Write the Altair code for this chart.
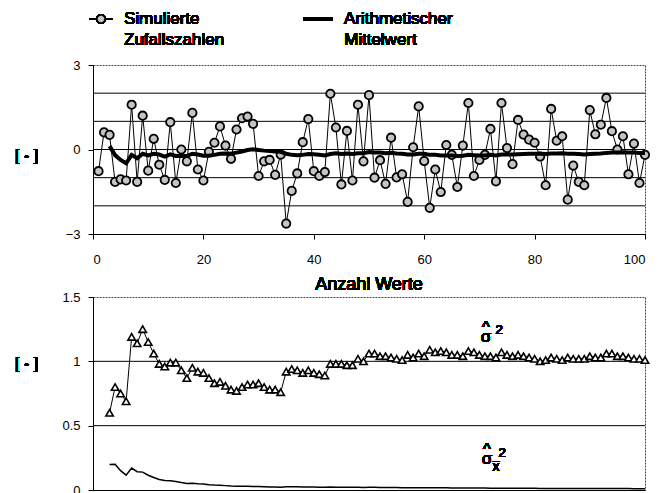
import pandas as pd
import altair as alt

# Simulierte Zufallszahlen, Werte 1..100
anzahl = list(range(1, 101))
zufallszahlen = [-0.77, 0.61, 0.52, -1.15, -1.06, -1.10, 1.59, -1.15, 1.20, -0.75,
                 0.38, -0.54, -1.08, 0.97, -1.19, 0.00, -0.42, 1.30, -0.71, -1.10,
                 -0.08, 0.24, 0.82, 0.14, -0.33, 0.71, 1.11, 1.17, 0.91, -0.94,
                 -0.42, -0.37, -0.90, -0.18, -2.63, -1.47, -0.85, 0.26, 1.08, -0.77,
                 -0.94, -0.80, 1.98, 0.78, -1.24, 0.66, -1.10, 1.59, -0.42, 1.93,
                 -1.00, -0.38, -1.22, 0.42, -0.99, -0.88, -1.86, 0.08, 1.53, -0.41,
                 -2.07, -0.71, -1.51, 0.16, -0.19, -1.33, 0.14, 1.65, -0.94, -0.37,
                 -0.19, 0.73, -1.13, 1.65, 0.05, -0.52, 1.05, 0.53, 0.35, 0.24,
                 -0.25, -1.27, 1.44, 0.31, 0.47, -1.78, -0.57, -1.15, -1.27, 1.40,
                 0.54, 0.88, 1.83, 0.65, 0.00, 0.47, -0.88, 0.21, -1.19, -0.19]

# Kennwerte ab dem 3. Wert
anzahl_ab3 = list(range(3, 101))
mittelwert = [0.12, -0.20, -0.37, -0.49, -0.19, -0.31, -0.15, -0.21, -0.15, -0.18,
              -0.25, -0.17, -0.23, -0.22, -0.23, -0.15, -0.18, -0.22, -0.22, -0.19,
              -0.15, -0.14, -0.15, -0.11, -0.07, -0.02, 0.01, -0.02, -0.04, -0.05,
              -0.07, -0.08, -0.15, -0.19, -0.20, -0.19, -0.16, -0.17, -0.19, -0.21,
              -0.16, -0.13, -0.16, -0.14, -0.16, -0.13, -0.13, -0.09, -0.11, -0.11,
              -0.13, -0.12, -0.14, -0.15, -0.18, -0.18, -0.15, -0.15, -0.19, -0.19,
              -0.21, -0.21, -0.21, -0.23, -0.22, -0.19, -0.20, -0.21, -0.21, -0.19,
              -0.21, -0.18, -0.18, -0.18, -0.17, -0.16, -0.15, -0.15, -0.15, -0.16,
              -0.14, -0.14, -0.13, -0.15, -0.15, -0.16, -0.18, -0.16, -0.15, -0.14,
              -0.12, -0.11, -0.11, -0.10, -0.11, -0.11, -0.12, -0.12]
varianz = [0.60, 0.80, 0.75, 0.69, 1.19, 1.14, 1.25, 1.15, 1.06, 0.98,
           0.96, 0.99, 0.99, 0.93, 0.87, 0.95, 0.92, 0.91, 0.87, 0.83,
           0.84, 0.81, 0.78, 0.77, 0.80, 0.82, 0.82, 0.83, 0.80, 0.78,
           0.78, 0.76, 0.92, 0.94, 0.93, 0.91, 0.93, 0.91, 0.90, 0.89,
           0.98, 0.98, 0.98, 0.97, 0.97, 1.02, 1.00, 1.06, 1.06, 1.04,
           1.04, 1.03, 1.02, 1.01, 1.05, 1.03, 1.06, 1.04, 1.09, 1.07,
           1.08, 1.07, 1.05, 1.05, 1.04, 1.08, 1.07, 1.05, 1.04, 1.04,
           1.03, 1.07, 1.05, 1.04, 1.05, 1.04, 1.03, 1.02, 1.00, 1.01,
           1.03, 1.02, 1.01, 1.03, 1.02, 1.02, 1.02, 1.04, 1.03, 1.03,
           1.06, 1.06, 1.04, 1.04, 1.03, 1.02, 1.02, 1.01]
varianz_mittel = [0.199, 0.200, 0.150, 0.115, 0.170, 0.142, 0.139, 0.115, 0.097, 0.082,
                  0.074, 0.071, 0.066, 0.058, 0.051, 0.053, 0.048, 0.046, 0.041, 0.038,
                  0.037, 0.034, 0.031, 0.030, 0.030, 0.029, 0.028, 0.028, 0.026, 0.024,
                  0.024, 0.022, 0.026, 0.026, 0.025, 0.024, 0.024, 0.023, 0.022, 0.021,
                  0.023, 0.022, 0.022, 0.021, 0.021, 0.021, 0.020, 0.021, 0.021, 0.020,
                  0.020, 0.019, 0.019, 0.018, 0.018, 0.018, 0.018, 0.017, 0.018, 0.017,
                  0.017, 0.017, 0.016, 0.016, 0.016, 0.016, 0.015, 0.015, 0.015, 0.014,
                  0.014, 0.014, 0.014, 0.014, 0.014, 0.013, 0.013, 0.013, 0.012, 0.012,
                  0.012, 0.012, 0.012, 0.012, 0.012, 0.012, 0.011, 0.012, 0.011, 0.011,
                  0.011, 0.011, 0.011, 0.011, 0.011, 0.010, 0.010, 0.010]

x_ticks = [0, 20, 40, 60, 80, 100]
y_ticks_top = [-3, 0, 3]
grid_top_vals = [-2, -1, 0, 1, 2]
y_ticks_bot = [0, 0.5, 1, 1.5]
grid_bot_vals = [0.5, 1.0]

df = pd.DataFrame({"n": anzahl, "wert": zufallszahlen})
dfm = pd.DataFrame({"n": anzahl_ab3, "mittel": mittelwert, "var": varianz, "varm": varianz_mittel})

F = "Liberation Sans"
xs = alt.Scale(domain=[0, 100], nice=False, zero=False)
ys_top = alt.Scale(domain=[-3, 3], nice=False)
ys_bot = alt.Scale(domain=[0, 1.5], nice=False)


def txt(s, xv, yv, size=16, align="left"):
    return alt.Chart(df).mark_text(text=s, font=F, fontSize=size, align=align, baseline="middle",
                                   color="black").encode(x=alt.value(xv), y=alt.value(yv))


top_axis_x = alt.Axis(values=x_ticks, grid=False, domainColor="black", tickColor="black",
                      labelFont=F, labelFontSize=13, labelColor="black", tickSize=5,
                      labelPadding=14, title=None)
top_axis_y = alt.Axis(values=y_ticks_top, grid=False, domainColor="black", tickColor="black",
                      labelFont=F, labelFontSize=13, labelColor="black", tickSize=5,
                      labelPadding=8, title=None)

anchor = alt.Chart(df).mark_rule(color="white", strokeWidth=1).encode(
    x=alt.value(-92), x2=alt.value(-91), y=alt.value(-63.5))
grid_top = alt.Chart(pd.DataFrame({"g": grid_top_vals})).mark_rule(color="black", strokeWidth=1).encode(
    y=alt.Y("g:Q", scale=ys_top, axis=top_axis_y))
line_z = alt.Chart(df).mark_line(color="black", strokeWidth=1).encode(
    x=alt.X("n:Q", scale=xs, axis=top_axis_x), y=alt.Y("wert:Q", scale=ys_top))
pts_z = alt.Chart(df).mark_point(shape="circle", filled=True, size=70, fill="#c4c4c4", stroke="black",
                                 strokeWidth=1.8, opacity=1).encode(x="n:Q", y="wert:Q")
line_m = alt.Chart(dfm).mark_line(color="black", strokeWidth=4).encode(x="n:Q", y="mittel:Q")
legend_line1 = alt.Chart(df).mark_rule(color="black", strokeWidth=1).encode(
    x=alt.value(-4), x2=alt.value(20), y=alt.value(-46))
legend_pt = alt.Chart(df).mark_point(shape="circle", filled=True, size=70, fill="#c4c4c4", stroke="black",
                                     strokeWidth=1.8, opacity=1).encode(x=alt.value(8), y=alt.value(-46))
legend_line2 = alt.Chart(df).mark_rule(color="black", strokeWidth=4).encode(
    x=alt.value(210), x2=alt.value(240), y=alt.value(-46))

top = alt.layer(
    anchor, grid_top, line_z, pts_z, line_m, legend_line1, legend_pt, legend_line2,
    txt("Simulierte", 31, -46, 17), txt("Zufallszahlen", 31, -25, 17),
    txt("Arithmetischer", 251, -46, 17), txt("Mittelwert", 251, -25, 17),
    txt("[ - ]", -78, 91, 16),
).properties(width=552, height=169)

bot_axis_x = alt.Axis(values=x_ticks, grid=False, domainColor="black", labels=False,
                      ticks=False, title=None)
bot_axis_y = alt.Axis(values=y_ticks_bot, grid=False, domainColor="black", tickColor="black",
                      labelFont=F, labelFontSize=13, labelColor="black", tickSize=5,
                      labelPadding=8, title=None, format=".1~f")
grid_bot = alt.Chart(pd.DataFrame({"g": grid_bot_vals})).mark_rule(color="black", strokeWidth=1).encode(
    y=alt.Y("g:Q", scale=ys_bot, axis=bot_axis_y))
line_v = alt.Chart(dfm).mark_line(color="black", strokeWidth=1).encode(
    x=alt.X("n:Q", scale=xs, axis=bot_axis_x), y=alt.Y("var:Q", scale=ys_bot))
pts_v = alt.Chart(dfm).mark_point(shape="triangle-up", filled=True, size=55, fill="white", stroke="black",
                                  strokeWidth=1.6, opacity=1).encode(x="n:Q", y="var:Q")
line_vm = alt.Chart(dfm).mark_line(color="black", strokeWidth=1.5).encode(x="n:Q", y="varm:Q")

bottom = alt.layer(
    grid_bot, line_v, pts_v, line_vm,
    txt("Anzahl Werte", 276, -12, 18, "center"),
    txt("[ - ]", -78, 67, 16),
    txt("σ", 393, 40, 17, "center"), txt("^", 393, 31, 17, "center"), txt("2", 406, 33, 13, "center"),
    txt("σ", 394, 162, 17, "center"), txt("^", 394, 153, 17, "center"), txt("2", 409, 156, 13, "center"),
    txt("x", 403, 170, 14, "center"), txt("_", 403, 158, 12, "center"),
).properties(width=552, height=193)

chart = alt.vconcat(top, bottom, spacing=63, bounds="flush").properties(padding=0).configure_view(
    stroke="#444", strokeWidth=1, strokeDash=[2, 1])
chart.save("out.html", embed_options={"renderer": "svg", "actions": False})
